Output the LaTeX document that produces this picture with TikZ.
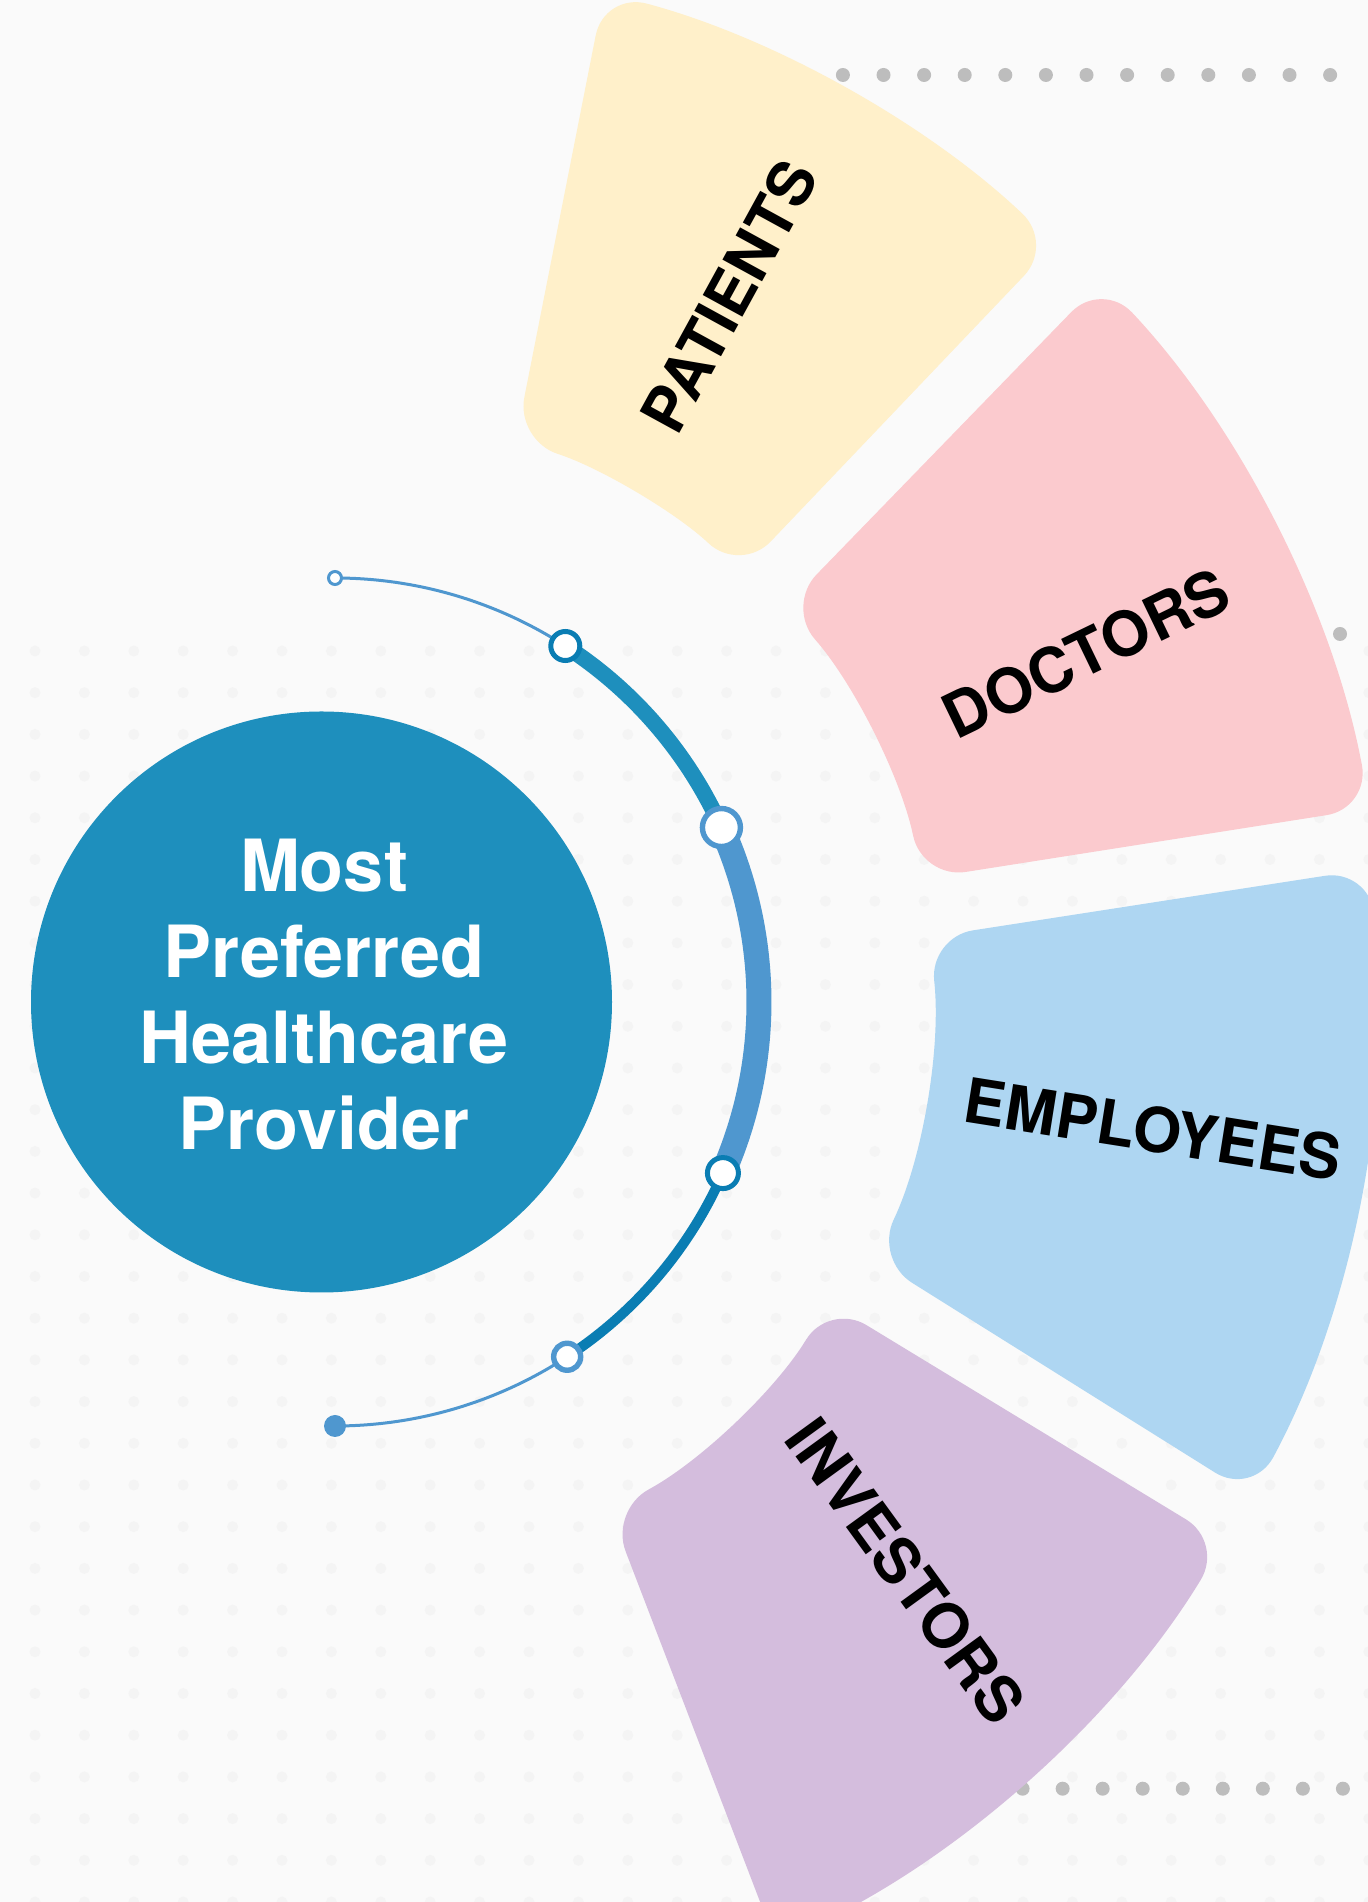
\documentclass[tikz,border=0pt]{standalone}
\usepackage{fontspec}
\setmainfont{TeX Gyre Heros}
\begin{document}
\begin{tikzpicture}[x=0.5pt,y=0.5pt,
  petal/.style={rounded corners=22pt},
  petaltext/.style={font=\fontsize{31}{36}\selectfont\bfseries, text=black, inner sep=0pt},
  centertext/.style={font=\fontsize{36}{43}\selectfont\bfseries, text=white, align=center, inner sep=0pt},
  greydot/.style={fill=dotgrey},
  thinline/.style={draw=lightblue, line width=1.5pt},
  thickdark/.style={draw=circblue, line width=8pt},
  thicklight/.style={draw=lightblue, line width=12.5pt},
  middark/.style={draw=darkblue, line width=5pt},
  ringdark/.style={draw=darkblue, fill=white, line width=2.5pt},
  ringlight/.style={draw=lightblue, fill=white, line width=2.7pt}
]
\definecolor{bg}{HTML}{FAFAFA}
\definecolor{gridc}{HTML}{F4F4F4}
\definecolor{dotgrey}{HTML}{BDBDBD}
\definecolor{patc}{HTML}{FFF0CA}
\definecolor{docc}{HTML}{FBCACE}
\definecolor{empc}{HTML}{AED6F2}
\definecolor{invc}{HTML}{D4BDDD}
\definecolor{circblue}{HTML}{1E8FBD}
\definecolor{lightblue}{HTML}{4F97CF}
\definecolor{darkblue}{HTML}{0A7DB3}

\useasboundingbox (0,0) rectangle (1368,1902);
\fill[bg] (0,0) rectangle (1368,1902);

% faint background dot grid
\foreach \i in {0,...,27}{
  \foreach \j in {-20,...,10}{
    \fill[gridc] ({35+49.4*\i},{1902-(1485+41.7*\j)}) circle[radius=5.5];
  }
}

% grey dotted rows
\foreach \k in {-6,...,12}{
  \fill[greydot] ({842.9+40.6*\k},1827) circle[radius=7];
}
\foreach \k in {0,...,6}{
  \fill[greydot] ({1340-40.6*\k},1268) circle[radius=7];
}
\foreach \k in {-6,...,8}{
  \fill[greydot] ({1022.6+40.04*\k},113.3) circle[radius=7];
}

% petals around the centre C
\begin{scope}[shift={(335,900)}]
  \fill[patc, petal] (75.07:1045) arc[start angle=75.07, end angle=46.5, radius=1045]
     -- (46.6:590) arc[start angle=46.6, end angle=72.15, radius=590] -- cycle;
  \fill[docc, petal] (43.25:1053) arc[start angle=43.25, end angle=10.6, radius=1053]
     -- (11.85:600) arc[start angle=11.85, end angle=41.28, radius=600] -- cycle;
  \fill[empc, petal] (7.33:1042) arc[start angle=7.33, end angle=-28.3, radius=1042]
     -- (-25.5:598) arc[start angle=-25.5, end angle=6.23, radius=598] -- cycle;
  \fill[invc, petal] (-31.3:1040) arc[start angle=-31.3, end angle=-64.9, radius=1040]
     -- (-61.6:578) arc[start angle=-61.6, end angle=-31.3, radius=578] -- cycle;

  % arc points
  \coordinate (a0) at (90:424);
  \coordinate (a1) at (57.1:424);
  \coordinate (a2) at (24.3:424);
  \coordinate (a3) at (-23.8:424);
  \coordinate (a4) at (-56.8:424);
  \coordinate (a5) at (-90:424);

  \draw[thinline] (a0) arc[start angle=90, end angle=57.1, radius=424];
  \draw[thickdark] (a1) arc[start angle=57.1, end angle=24.3, radius=424];
  \draw[thicklight] (a2) arc[start angle=24.3, end angle=-23.8, radius=424];
  \draw[middark] (a3) arc[start angle=-23.8, end angle=-56.8, radius=424];
  \draw[thinline] (a4) arc[start angle=-56.8, end angle=-90, radius=424];

  \draw[lightblue, fill=white, line width=1.5pt] (a0) circle[radius=6.5];
  \draw[ringdark] (a1) circle[radius=14.5];
  \draw[ringlight] (a2) circle[radius=19];
  \draw[ringdark] (a3) circle[radius=15.5];
  \draw[ringlight] (a4) circle[radius=13.5];
  \fill[lightblue] (a5) circle[radius=11];
\end{scope}

% main circle
\fill[circblue] (321.5,900) circle[radius=290.5];
\node[centertext] (centre) at (324,907.5) {Most\\Preferred\\Healthcare\\Provider};

% petal labels
\node[petaltext, rotate=61.3] (patients) at (729,1606) {PATIENTS};
\node[petaltext, rotate=25.8] (doctors) at (1086,1249) {DOCTORS};
\node[petaltext, rotate=-9] (employees) at (1153,773) {EMPLOYEES};
\node[petaltext, rotate=-54] (investors) at (906,331) {INVESTORS};
\end{tikzpicture}
\end{document}
